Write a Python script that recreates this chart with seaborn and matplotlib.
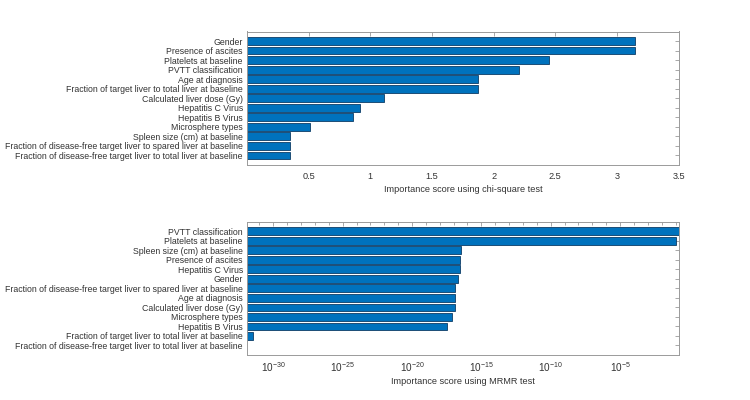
import numpy as np
import pandas as pd
import matplotlib
matplotlib.use("Agg")
import matplotlib.pyplot as plt
import matplotlib.ticker as mticker
import seaborn as sns

# ---- data ----
chi_features = [
    "Gender",
    "Presence of ascites",
    "Platelets at baseline",
    "PVTT classification",
    "Age at diagnosis",
    "Fraction of target liver to total liver at baseline",
    "Calculated liver dose (Gy)",
    "Hepatitis C Virus",
    "Hepatitis B Virus",
    "Microsphere types",
    "Spleen size (cm) at baseline",
    "Fraction of disease-free target liver to spared liver at baseline",
    "Fraction of disease-free target liver to total liver at baseline",
]
chi_scores = [3.144, 3.144, 2.447, 2.203, 1.871, 1.871, 1.108, 0.914, 0.857,
              0.507, 0.346, 0.346, 0.346]

mrmr_features = [
    "PVTT classification",
    "Platelets at baseline",
    "Spleen size (cm) at baseline",
    "Presence of ascites",
    "Hepatitis C Virus",
    "Gender",
    "Fraction of disease-free target liver to spared liver at baseline",
    "Age at diagnosis",
    "Calculated liver dose (Gy)",
    "Microsphere types",
    "Hepatitis B Virus",
    "Fraction of target liver to total liver at baseline",
    "Fraction of disease-free target liver to total liver at baseline",
]
mrmr_log10 = [-0.77, -0.96, -16.44, -16.51, -16.51, -16.66, -16.87, -16.87,
              -16.87, -17.10, -17.45, -31.49, None]
mrmr_scores = [10.0 ** v if v is not None else 0.0 for v in mrmr_log10]

chi_ticks = [0.5, 1, 1.5, 2, 2.5, 3, 3.5]
mrmr_tick_exps = [-30, -25, -20, -15, -10, -5]

# ---- style ----
sns.set_style("white")
plt.rcParams["font.family"] = ["Liberation Sans", "DejaVu Sans"]
plt.rcParams["mathtext.fontset"] = "custom"
plt.rcParams["mathtext.rm"] = "Liberation Sans"
plt.rcParams["mathtext.it"] = "Liberation Sans"
TXT = "#333333"
AX = "#9a9a9a"
BAR = "#0072BD"
EDGE = "#0d3c66"
FS = 6.6
FSY = 6.35

fig = plt.figure(figsize=(7.5, 4.0), dpi=100)
ax1 = fig.add_axes([247 / 750, 1 - 165 / 400, (678.7 - 247) / 750, (165 - 31.5) / 400])
ax2 = fig.add_axes([247 / 750, 1 - 355 / 400, (678.7 - 247) / 750, (355 - 221.8) / 400])

df1 = pd.DataFrame({"feature": chi_features, "score": chi_scores})
sns.barplot(data=df1, x="score", y="feature", orient="h", color=BAR,
            saturation=1, width=0.82, edgecolor=EDGE, linewidth=0.6, ax=ax1)
ax1.set_xlim(0, 3.5)
ax1.set_ylim(13, -1)
ax1.set_xticks(chi_ticks)
ax1.set_xticklabels([f"{t:g}" for t in chi_ticks])
ax1.set_xlabel("Importance score using chi-square test", fontsize=FS, color=TXT, labelpad=3)
ax1.set_ylabel("")

df2 = pd.DataFrame({"feature": mrmr_features, "score": mrmr_scores})
sns.barplot(data=df2, x="score", y="feature", orient="h", color=BAR,
            saturation=1, width=0.82, edgecolor=EDGE, linewidth=0.6, ax=ax2)
ax2.set_xscale("log")
ax2.set_xlim(10 ** -31.9, 10 ** -0.77)
ax2.set_ylim(13, -1)
ax2.xaxis.set_major_locator(mticker.FixedLocator([10.0 ** e for e in mrmr_tick_exps]))
ax2.xaxis.set_major_formatter(mticker.FixedFormatter(
    [r"$\mathregular{10^{%d}}$" % e for e in mrmr_tick_exps]))
ax2.xaxis.set_minor_locator(mticker.FixedLocator([10.0 ** e for e in range(-31, 0)]))
ax2.xaxis.set_minor_formatter(mticker.NullFormatter())
ax2.set_xlabel("Importance score using MRMR test", fontsize=FS, color=TXT, labelpad=2)
ax2.set_ylabel("")

for ax in (ax1, ax2):
    for s in ax.spines.values():
        s.set_visible(True)
        s.set_color(AX)
        s.set_linewidth(0.7)
    ax.tick_params(axis="both", which="both", direction="in", top=True, right=True,
                   colors=AX, labelcolor=TXT, labelsize=FS, width=0.6)
    ax.tick_params(axis="both", which="major", length=3, pad=3)
    ax.tick_params(axis="y", labelsize=FSY)
    ax.tick_params(axis="x", which="minor", length=2)
    ax.tick_params(axis="x", which="major", pad=5)
    ax.grid(False)

ax2.tick_params(axis="x", which="major", labelsize=7.2, pad=4)

fig.savefig("out.png", dpi=100, facecolor="white")
